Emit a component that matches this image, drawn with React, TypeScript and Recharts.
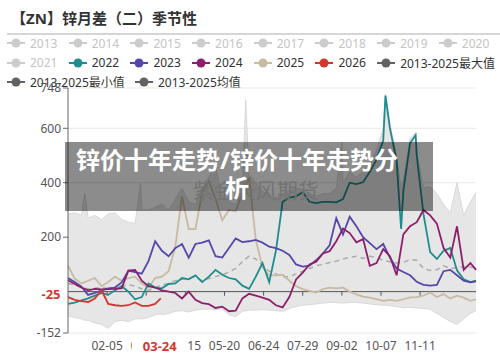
import React from 'react';
import { ComposedChart, Line, Area, XAxis, YAxis, CartesianGrid, ReferenceLine } from 'recharts';

const N = null;

// day of a leap-year calendar (1 = 01-01)
const days = [
  1, 7, 13, 16, 19, 25, 31, 37, 43, 49,
  55, 61, 66, 67, 73, 79, 84, 85, 91, 97,
  103, 109, 115, 121, 127, 133, 139, 145, 151, 157,
  160, 163, 169, 175, 181, 187, 193, 199, 205, 211,
  217, 223, 229, 235, 241, 246, 247, 253, 259, 265,
  271, 277, 283, 285, 289, 295, 299, 301, 307, 312,
  313, 319, 325, 331, 337, 343, 349, 355, 361, 366,
];

const y2022 = [
  -45, -40, -32, N, -25, -15, -5, -12, 5, 20,
  0, -28, N, -20, 30, 15, N, 12, 28, 30,
  50, 45, 60, 35, 55, 80, 62, 50, 45, 22,
  N, 10, 55, 105, 35, 150, 330, 345, 350, 365,
  330, 325, 330, 330, 328, N, 340, 400, 395, 402,
  440, 485, 555, 720, 600, 480, 230, 370, 545, 575,
  500, 285, 145, 120, 150, 160, 78, 45, 35, 40,
];

const y2023 = [
  50, 35, 18, N, -12, -5, 5, 12, 15, 34,
  77, 72, N, 66, 112, 185, N, 150, 130, 160,
  175, 125, 175, 180, 188, 130, 125, 160, 195, 182,
  N, 185, 190, 180, 165, 160, 150, 135, 100, 92,
  95, 115, 140, 170, 270, N, 210, 275, 240, 200,
  178, 156, 175, N, 125, 85, N, 72, 60, N,
  36, 25, 22, 25, 75, 80, 60, 40, 34, 38,
];

const y2024 = [
  42, 28, 15, N, 5, 10, 8, 9, 10, 12,
  77, 80, N, 40, 20, 15, N, 5, 0, -5,
  -25, 0, -30, -42, -46, -60, -55, -72, -70, -25,
  N, -8, -15, -22, -30, -50, -58, -20, 45, 70,
  100, 110, 140, 148, 185, N, 232, 215, 181, 193,
  95, 105, 156, N, 130, 60, N, 210, 240, N,
  255, 300, 280, 250, 160, 125, 240, 80, 105, 80,
];

const y2025 = [
  95, 48, 30, N, 40, 50, 20, 35, 55, 40,
  50, 55, N, 30, 15, 50, N, 55, 75, 165,
  350, 230, 230, 365, 405, 340, 262, 300, 295, 360,
  N, 420, 190, 90, 60, 60, 62, 40, 20, 9,
  3, -3, 9, 15, 12, N, 15, 0, -10, -18,
  -22, -28, -34, N, -30, -34, N, -28, -21, N,
  -20, -15, -3, -20, -9, -25, -15, -22, -34, -28,
];

const y2026 = [
  -20, -30, -35, N, -38, -25, 5, -45, -50, -52,
  -50, -40, N, -52, -52, -45, -25, N, N, N,
];

const meanValues = [
  30, 25, 15, N, 10, 12, 15, 10, 15, 20,
  25, 20, N, 10, 5, 15, N, 25, 30, 40,
  45, 50, 55, 40, 48, 55, 62, 72, 85, 110,
  N, 130, 120, 95, 75, 65, 55, 55, 65, 75,
  85, 95, 100, 107, 112, N, 120, 126, 130, 122,
  130, 125, 115, N, 110, 105, N, 107, 118, N,
  115, 85, 78, 80, 95, 85, 88, 92, 90, 88,
];

const maxValues = [
  285, 290, 280, 360, 270, 280, 265, 285, 290, 265,
  255, 250, 400, 300, 300, 310, 320, 320, 300, 340,
  380, 330, 320, 375, 420, 460, 350, 330, 320, 380,
  705, 430, 400, 370, 350, 340, 360, 370, 380, 375,
  360, 350, 360, 360, 380, 550, 400, 440, 420, 440,
  470, 520, 600, 725, 615, 500, 380, 410, 560, 585,
  510, 380, 385, 360, 320, 290, 400, 280, 330, 365,
];

const minValues = [
  -90, -95, -100, -105, -105, -115, -120, -135, -110, -105,
  -110, -100, -100, -100, -95, -85, -82, -85, -80, -72,
  -70, -75, -68, -65, -64, -66, -64, -85, -92, -72,
  -70, -68, -68, -66, -68, -70, -72, -62, -55, -50,
  -48, -45, -42, -40, -40, -42, -42, -40, -40, -42,
  -45, -48, -50, -50, -52, -55, -58, -60, -58, -60,
  -60, -62, -65, -80, -95, -110, -120, -100, -80, -70,
];

const tickDays = [36, 71, 106, 141, 176, 211, 246, 281, 316];
const tickLabels = ['02-05', '03-11', '04-15', '05-20', '06-24', '07-29', '09-02', '10-07', '11-11'];
const yTicks = [-152, 200, 400, 600, 748];
const lastDay = 84;
const lastDayLabel = '03-24';
const lastValue = -25;

const legendRows = [
  [
    { name: '2013', color: '#cccccc', off: true },
    { name: '2014', color: '#cccccc', off: true },
    { name: '2015', color: '#cccccc', off: true },
    { name: '2016', color: '#cccccc', off: true },
    { name: '2017', color: '#cccccc', off: true },
    { name: '2018', color: '#cccccc', off: true },
    { name: '2019', color: '#cccccc', off: true },
    { name: '2020', color: '#cccccc', off: true },
  ],
  [
    { name: '2021', color: '#cccccc', off: true },
    { name: '2022', color: '#1f8c8e' },
    { name: '2023', color: '#5547a8' },
    { name: '2024', color: '#8c1f6c' },
    { name: '2025', color: '#c9baa2' },
    { name: '2026', color: '#d2372f' },
    { name: '2013-2025最大值', color: '#626262' },
  ],
  [
    { name: '2013-2025最小值', color: '#626262', width: 128 },
    { name: '2013-2025均值', color: '#626262' },
  ],
];

const data = days.map((d, i) => ({
  day: d,
  y2022: y2022[i],
  y2023: y2023[i],
  y2024: y2024[i],
  y2025: y2025[i],
  y2026: i < y2026.length ? y2026[i] : null,
  mean: meanValues[i],
  band: [minValues[i], maxValues[i]],
}));

const FONT = "'Noto Sans', 'Noto Sans CJK SC', sans-serif";

const fmtDay = (d: number) => {
  const idx = tickDays.indexOf(d);
  return idx >= 0 ? tickLabels[idx] : '';
};

// x tick; the latest date is drawn last, boxed in white over its neighbours
const XTick = ({ x, y, payload }: any) => {
  if (payload.value === lastDay) {
    return (
      <g>
        <rect x={x - 29} y={y - 5} width={56} height={20} fill="#fff" />
        <text x={x - 1} y={y + 5} textAnchor="middle" dominantBaseline="central" fill="#d2372f" fontSize={13} fontWeight="bold" fontFamily={FONT}>
          {lastDayLabel}
        </text>
      </g>
    );
  }
  return (
    <text x={x} y={y} dy="0.71em" textAnchor="middle" fill="#555" fontSize={12} fontFamily={FONT}>
      {fmtDay(payload.value)}
    </text>
  );
};

const ValueLabel = ({ viewBox }: any) => {
  if (!viewBox) return null;
  const { x, y } = viewBox;
  return (
    <g>
      <rect x={x - 29} y={y - 13} width={25} height={17} fill="#fff" />
      <text x={x - 17} y={y - 4} textAnchor="middle" dominantBaseline="central" fill="#d2372f" fontSize={13} fontWeight="bold" fontFamily={FONT}>
        {lastValue}
      </text>
    </g>
  );
};

const LegendItem = ({ item }: any) => (
  <div style={{ display: 'flex', alignItems: 'center', width: item.width ?? 61.7, flex: 'none', whiteSpace: 'nowrap' }}>
    <svg width={18} height={10} style={{ flex: 'none' }}>
      <line x1={0} y1={5} x2={18} y2={5} stroke={item.color} strokeWidth={2} />
      <circle cx={9} cy={5} r={4.5} fill={item.color} />
    </svg>
    <span style={{ marginLeft: 5, fontSize: 12, color: item.off ? '#c4c4c4' : '#333' }}>{item.name}</span>
  </div>
);

export default function App() {
  return (
    <div style={{ position: 'absolute', left: 0, top: 0, width: 500, height: 354, background: '#fff', fontFamily: FONT, overflow: 'hidden' }}>
      <div style={{ position: 'absolute', left: 11, top: 8, fontSize: 15, lineHeight: '20px', fontWeight: 'bold', color: '#333' }}>
        【ZN】锌月差（二）季节性
      </div>
      <div style={{ position: 'absolute', left: 7, top: 33, width: 493, height: 2, background: '#d6d6d6' }} />
      {legendRows.map((row, r) => (
        <div key={r} style={{ position: 'absolute', left: 7, top: [35, 54.5, 73.5][r], height: 16, display: 'flex', alignItems: 'center' }}>
          {row.map((item) => <LegendItem key={item.name} item={item} />)}
        </div>
      ))}

      <div style={{ position: 'absolute', left: 0, top: 0 }}>
        <ComposedChart width={500} height={354} data={data} margin={{ top: 88, right: 24, bottom: 0, left: 8 }}>
          <CartesianGrid vertical={false} stroke="#e8e8e8" />
          <XAxis
            dataKey="day"
            type="number"
            domain={[1, 366]}
            ticks={[...tickDays, lastDay]}
            interval={0}
            axisLine={false}
            tickLine={false}
            height={21}
            tick={<XTick />}
          />
          <YAxis
            type="number"
            domain={[-152, 748]}
            ticks={yTicks}
            interval={0}
            width={60}
            axisLine={{ stroke: '#666' }}
            tickLine={{ stroke: '#666' }}
            tickSize={5}
            tick={{ fontSize: 12, fill: '#555' }}
          />
          <Area
            dataKey="band"
            type="linear"
            stroke="#d9d9d9"
            strokeWidth={1}
            fill="#e6e6e6"
            fillOpacity={1}
            dot={false}
            activeDot={false}
            isAnimationActive={false}
          />
          <ReferenceLine y={0} stroke="#555" strokeWidth={1} />
          {tickDays.map((d) => (
            <ReferenceLine key={d} segment={[{ x: d, y: 0 }, { x: d, y: -15 }]} stroke="#555" />
          ))}
          <Line dataKey="mean" type="linear" stroke="#aaaaaa" strokeWidth={1.5} strokeDasharray="5 4" dot={false} connectNulls isAnimationActive={false} />
          <Line dataKey="y2025" type="linear" stroke="#c9baa2" strokeWidth={1.8} dot={false} connectNulls isAnimationActive={false} />
          <Line dataKey="y2022" type="linear" stroke="#1f8c8e" strokeWidth={1.8} dot={false} connectNulls isAnimationActive={false} />
          <Line dataKey="y2023" type="linear" stroke="#5547a8" strokeWidth={1.8} dot={false} connectNulls isAnimationActive={false} />
          <Line dataKey="y2024" type="linear" stroke="#8c1f6c" strokeWidth={1.8} dot={false} connectNulls isAnimationActive={false} />
          <Line dataKey="y2026" type="linear" stroke="#d2372f" strokeWidth={1.8} dot={false} connectNulls isAnimationActive={false} />
          <ReferenceLine y={lastValue} stroke="none" label={<ValueLabel />} />
        </ComposedChart>
      </div>

      <div style={{ position: 'absolute', left: 193, top: 177, fontSize: 21, lineHeight: '26px', color: '#d2d2d2', whiteSpace: 'nowrap' }}>
        紫金天风期货
      </div>
      <div style={{ position: 'absolute', left: 65, top: 142, width: 368, height: 69, background: 'rgba(0,0,0,0.45)' }} />
      <div style={{ position: 'absolute', left: 69, top: 146, width: 336, textAlign: 'center', color: '#fff', fontSize: 24, lineHeight: '28px', fontWeight: 'bold' }}>
        锌价十年走势/锌价十年走势分析
      </div>
    </div>
  );
}
